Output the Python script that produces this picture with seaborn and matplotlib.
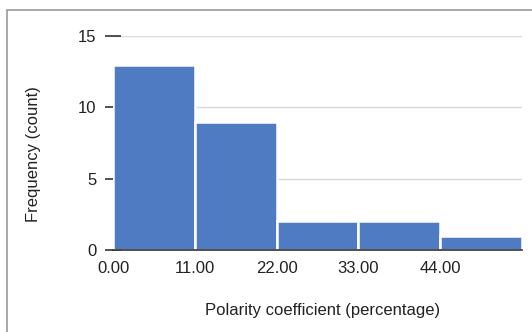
import matplotlib
matplotlib.use("Agg")
import matplotlib.pyplot as plt
import seaborn as sns
from matplotlib.patches import Rectangle

# Histogram bins and counts
bin_edges = [0, 11, 22, 33, 44, 55]
counts = [13, 9, 2, 2, 1]
x_ticks = [0, 11, 22, 33, 44]
x_tick_labels = ["0.00", "11.00", "22.00", "33.00", "44.00"]
y_ticks = [0, 5, 10, 15]

sns.set_theme(style="white")
plt.rcParams["font.family"] = ["Liberation Sans", "DejaVu Sans"]

W, H = 532, 332
fig = plt.figure(figsize=(W / 100, H / 100), dpi=100)
left, right, top, bottom = 113, 522, 36, 250
ax = fig.add_axes([left / W, 1 - bottom / H, (right - left) / W, (bottom - top) / H])

centers = [(a + b) / 2 for a, b in zip(bin_edges[:-1], bin_edges[1:])]
sns.histplot(x=centers, weights=counts, bins=bin_edges, ax=ax,
             color="#4f7bc2", alpha=1, edgecolor="white", linewidth=1.8)

ax.set_xlim(0, 55)
ax.set_ylim(0, 15)
ax.set_xticks(x_ticks)
ax.set_xticklabels(x_tick_labels)
ax.set_yticks(y_ticks)

ax.yaxis.grid(True, color="#d9d9d9", linewidth=1)
ax.set_axisbelow(True)
for side in ["top", "right", "left"]:
    ax.spines[side].set_visible(False)
ax.spines["bottom"].set_color("#333333")
ax.spines["bottom"].set_linewidth(1.2)

ax.tick_params(axis="y", left=True, direction="inout", length=12, width=1.2,
               color="#333333", labelsize=12, labelcolor="#222222", pad=6)
ax.tick_params(axis="x", bottom=False, length=0, labelsize=12,
               labelcolor="#222222", pad=8)

ax.set_xlabel("Polarity coefficient (percentage)", fontsize=12, color="#222222")
ax.set_ylabel("Frequency (count)", fontsize=12, color="#222222")
ax.xaxis.set_label_coords((323 - left) / (right - left), (bottom - 303) / (bottom - top))
ax.yaxis.set_label_coords((41 - left) / (right - left), (bottom - 154) / (bottom - top))

# Outer frame around the chart area
fig.patches.append(Rectangle((7 / W, -0.1), 1.2, 1 - 10 / H + 0.1,
                             transform=fig.transFigure, fill=False,
                             edgecolor="#999999", linewidth=1.2))

fig.savefig("out.png", dpi=100)
